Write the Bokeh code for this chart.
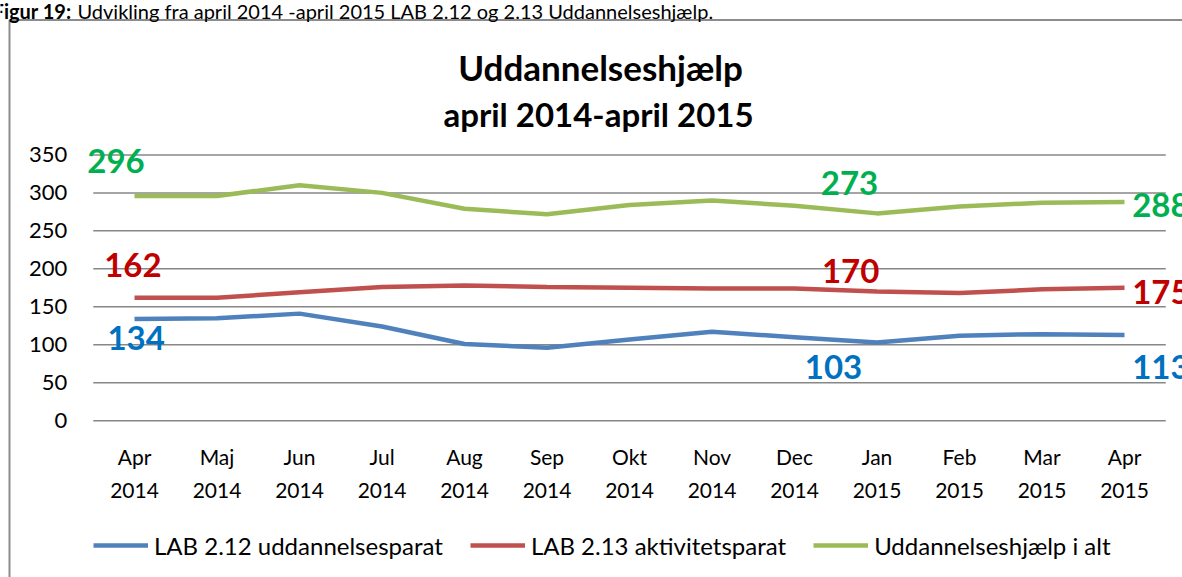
from bokeh.plotting import figure
from bokeh.models import Range1d, Legend, LegendItem
from bokeh.core.properties import value
from bokeh.embed import file_html
from bokeh.resources import INLINE

# ---------------- data ----------------
months = ["Apr", "Maj", "Jun", "Jul", "Aug", "Sep", "Okt", "Nov", "Dec", "Jan", "Feb", "Mar", "Apr"]
years = ["2014"] * 9 + ["2015"] * 4
lab212 = [134, 135, 141, 124, 101, 96, 107, 117, 110, 103, 112, 114, 113]
lab213 = [162, 162, 169, 176, 178, 176, 175, 174, 174, 170, 168, 173, 175]
total = [296, 296, 310, 300, 279, 272, 284, 290, 283, 273, 282, 287, 288]
series_names = ["LAB 2.12 uddannelsesparat", "LAB 2.13 aktivitetsparat", "Uddannelseshjælp i alt"]
y_ticks = [0, 50, 100, 150, 200, 250, 300, 350]
labelled_idx = [0, 9, 12]
title_lines = ["Uddannelseshjælp", "april 2014-april 2015"]
caption_bold = "Figur 19:"
caption_rest = "Udvikling fra april 2014 -april 2015 LAB 2.12 og 2.13 Uddannelseshjælp."

xs = list(range(len(months)))
series = [lab212, lab213, total]

# ---------------- layout / style ----------------
W, H = 1182, 577
X0_PX, DX_PX = 134.0, 82.5        # pixel of first category, pixels per category
Y0_PX, DY_PX = 420.2, 0.7594      # pixel of value 0, pixels per unit

def xd(px):
    return (px - X0_PX) / DX_PX

def yd(py):
    return (Y0_PX - py) / DY_PX

FONT = "Lato"
GRID = "#878787"
BOX = "#8c8c8c"
colors = ["#4F81BD", "#C0504D", "#9BBB59"]
label_colors = ["#0070C0", "#C00000", "#00B050"]

p = figure(x_range=Range1d(xd(0), xd(W)), y_range=Range1d(yd(H), yd(0)),
           width=W, height=H, output_backend="svg", toolbar_location=None,
           x_axis_type=None, y_axis_type=None, min_border=0)
p.title = None
p.outline_line_color = None
p.xgrid.visible = False
p.ygrid.visible = False

# chart border (left and top edges of the chart box)
p.segment(x0=[xd(9), xd(9)], y0=[yd(19.5), yd(19.5)], x1=[xd(W + 5), xd(9)], y1=[yd(19.5), yd(H + 5)],
          line_color=BOX, line_width=2)

# gridlines
gx0, gx1 = xs[0] - 0.5, xs[-1] + 0.5
p.segment(x0=[gx0] * len(y_ticks), x1=[gx1] * len(y_ticks), y0=y_ticks, y1=y_ticks,
          line_color=GRID, line_width=1.5)

# y tick labels
p.text(x=[gx0] * len(y_ticks), y=y_ticks, text=[str(t) for t in y_ticks], x_offset=-26,
       text_font=value(FONT), text_font_size="22px", text_color="black",
       text_align="right", text_baseline="middle")

# x tick labels (two lines)
p.text(x=xs, y=[yd(456)] * len(xs), text=months, text_font=value(FONT), text_font_size="21px",
       text_color="black", text_align="center", text_baseline="middle")
p.text(x=xs, y=[yd(490)] * len(xs), text=years, text_font=value(FONT), text_font_size="21px",
       text_color="black", text_align="center", text_baseline="middle")

# lines
renderers = []
for vals, c in zip(series, colors):
    renderers.append(p.line(xs, vals, line_color=c, line_width=4.5))

# data labels: (dx in categories, dy in units, align)
offsets = {
    0: [(0.02, -24.5, "center"), (-0.02, 42.4, "center"), (-0.224, 46.0, "center")],
    9: [(-0.527, -32.3, "center"), (-0.32, 26.5, "center"), (-0.333, 39.4, "center")],
    12: [(0.093, -42.3, "left"), (0.093, -4.9, "left"), (0.093, -4.0, "left")],
}
for si, vals in enumerate(series):
    lx, ly, lt, la = [], [], [], []
    for i in labelled_idx:
        dx, dy, al = offsets[i][si]
        p.text(x=[xs[i] + dx], y=[vals[i] + dy], text=[str(vals[i])],
               text_font=value(FONT), text_font_size="33px", text_font_style="bold",
               text_color=label_colors[si], text_align=al, text_baseline="middle")

# title
p.text(x=[xd(600)], y=[yd(66)], text=[title_lines[0]], text_font=value(FONT), text_font_size="35px",
       text_font_style="bold", text_color="black", text_align="center", text_baseline="alphabetic")
p.text(x=[xd(598)], y=[yd(113)], text=[title_lines[1]], text_font=value(FONT), text_font_size="33px",
       text_font_style="bold", text_color="black", text_align="center", text_baseline="alphabetic")

# caption above the chart box (cut by the top edge, as in the source)
p.text(x=[xd(71)], y=[yd(10)], text=[caption_bold], text_font=value(FONT), text_font_size="20px",
       text_font_style="bold", text_color="black", text_align="right", text_baseline="alphabetic")
p.text(x=[xd(77)], y=[yd(10)], text=[caption_rest], text_font=value(FONT), text_font_size="20px",
       text_color="black", text_align="left", text_baseline="alphabetic")

# legend
legend = Legend(items=[LegendItem(label=n, renderers=[r]) for n, r in zip(series_names, renderers)],
                orientation="horizontal", location=(93, H - 560),
                label_text_font=FONT, label_text_font_size="24px", label_text_color="black",
                glyph_width=55, glyph_height=30, label_height=30, label_standoff=6, spacing=27,
                border_line_color=None, background_fill_alpha=0, margin=0, padding=0)
p.add_layout(legend, "center")

open("out.html", "w").write(file_html(p, INLINE))
